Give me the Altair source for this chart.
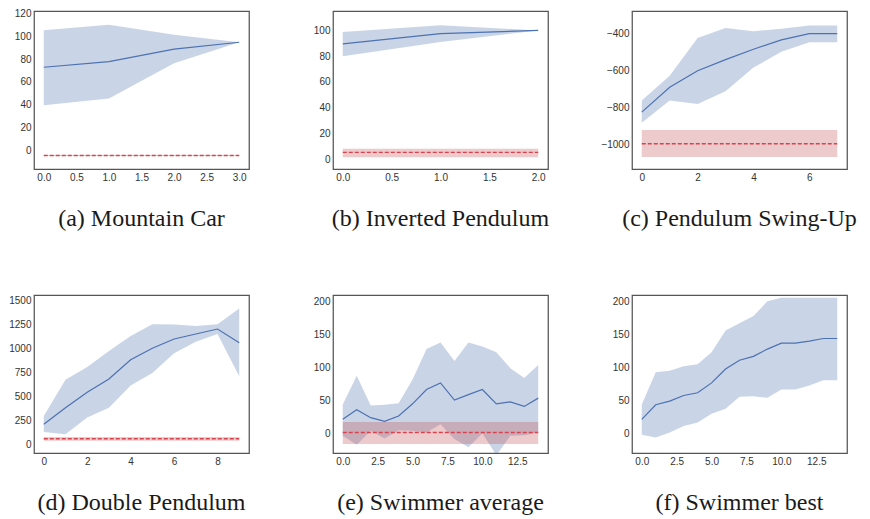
import altair as alt
import pandas as pd

BLUE = "#4c72b0"
RED = "#c44e52"

# (a) Mountain Car
a_steps = [0, 1, 2, 3]
a_mean = [73, 78, 89, 95]
a_upper = [105.5, 110.5, 101.5, 95]
a_lower = [39.5, 45.5, 76.5, 95]
a_base = -4.7
a_base_lo = -5.2
a_base_hi = -4.2

# (b) Inverted Pendulum
b_steps = [0, 1, 2]
b_mean = [89.5, 97.5, 100]
b_upper = [98.7, 104, 100]
b_lower = [80, 91, 100]
b_base = 5.2
b_base_lo = 1.5
b_base_hi = 8.0

# (c) Pendulum Swing-Up
c_steps = [0, 1, 2, 3, 4, 5, 6, 7]
c_mean = [-825, -692, -603, -543, -487, -437, -403, -403]
c_upper = [-763, -630, -427, -373, -391, -377, -360, -360]
c_lower = [-882, -763, -781, -713, -586, -501, -450, -450]
c_base = -995
c_base_lo = -1067
c_base_hi = -922

# (d) Double Pendulum
d_steps = [0, 1, 2, 3, 4, 5, 6, 7, 8, 9]
d_mean = [207, 379, 541, 679, 879, 1000, 1096, 1148, 1200, 1058]
d_upper = [293, 672, 803, 972, 1127, 1251, 1248, 1231, 1251, 1413]
d_lower = [127, 103, 276, 379, 610, 741, 948, 1068, 1148, 707]
d_base = 55
d_base_lo = 35
d_base_hi = 75

# (e) Swimmer average
e_steps = list(range(15))
e_mean = [21.5, 36, 24, 18.5, 26.6, 45, 66.7, 76.7, 50.6, 59, 66.7, 45, 48, 41, 53.6]
e_upper = [44, 87.7, 42.6, 43.6, 46, 81.7, 128, 138, 110, 138, 132, 123, 99, 84, 104]
e_lower = [-3.5, -17, 4, -7.5, 5, 4, 1.5, 14, -8.5, -21, 0.5, -33, -3.5, -2.5, 1.5]
e_base = 1.5
e_base_lo = -16
e_base_hi = 17.5

# (f) Swimmer best
f_steps = list(range(15))
f_mean = [21.5, 43.6, 49, 57.6, 61.7, 76.7, 97.8, 111, 117, 128, 137, 137, 140, 144, 144]
f_upper = [44, 92.7, 95, 102, 105, 123, 156, 167, 178, 200.5, 206, 206, 206, 206, 206]
f_lower = [-2, -6, 1.5, 11.5, 16.5, 30, 37.6, 55.6, 56.6, 54, 66.7, 66.7, 72.7, 80.7, 80.7]

titles = ["(a) Mountain Car", "(b) Inverted Pendulum", "(c) Pendulum Swing-Up",
          "(d) Double Pendulum", "(e) Swimmer average", "(f) Swimmer best"]


def panel(title, steps, mean, lower, upper, base, base_lo, base_hi,
          xdom, ydom, xticks, yticks, xfmt):
    df = pd.DataFrame({"step": steps, "mean": mean, "lo": lower, "hi": upper})
    x = alt.X("step:Q", scale=alt.Scale(domain=xdom, nice=False, zero=False),
              axis=alt.Axis(values=xticks, format=xfmt, title=None))
    ysc = alt.Scale(domain=ydom, nice=False, zero=False)
    yax = alt.Axis(values=yticks, format="d", title=None)
    base_chart = alt.Chart(df)
    layers = [
        base_chart.mark_area(color=BLUE, opacity=0.3, clip=True).encode(
            x=x, y=alt.Y("lo:Q", scale=ysc, axis=yax), y2="hi:Q"),
        base_chart.mark_line(color=BLUE, strokeWidth=1.2, clip=True).encode(
            x=x, y=alt.Y("mean:Q", scale=ysc, axis=yax)),
    ]
    if base is not None:
        bdf = pd.DataFrame({"step": [steps[0], steps[-1]], "b": [base, base],
                            "blo": [base_lo, base_lo], "bhi": [base_hi, base_hi]})
        bc = alt.Chart(bdf)
        layers.append(bc.mark_area(color=RED, opacity=0.3, clip=True).encode(
            x=x, y=alt.Y("blo:Q", scale=ysc, axis=yax), y2="bhi:Q"))
        layers.append(bc.mark_line(stroke="#d9434d", strokeWidth=1.4, strokeDash=[4, 2],
                                   strokeCap="butt", clip=True).encode(
            x=x, y=alt.Y("b:Q", scale=ysc, axis=yax)))
    return alt.layer(*layers).properties(
        width=215, height=158,
        title=alt.TitleParams(title, orient="bottom", anchor="middle"))


charts = [
    panel(titles[0], a_steps, a_mean, a_lower, a_upper, a_base, a_base_lo, a_base_hi,
          [-0.15, 3.15], [-16.6, 122.5], [0, 0.5, 1, 1.5, 2, 2.5, 3], [0, 20, 40, 60, 80, 100, 120], ".1f"),
    panel(titles[1], b_steps, b_mean, b_lower, b_upper, b_base, b_base_lo, b_base_hi,
          [-0.1, 2.1], [-7.7, 115.1], [0, 0.5, 1, 1.5, 2], [0, 20, 40, 60, 80, 100], ".1f"),
    panel(titles[2], c_steps, c_mean, c_lower, c_upper, c_base, c_base_lo, c_base_hi,
          [-0.35, 7.35], [-1131, -281.6], [0, 2, 4, 6], [-1000, -800, -600, -400], "d"),
    panel(titles[3], d_steps, d_mean, d_lower, d_upper, d_base, d_base_lo, d_base_hi,
          [-0.45, 9.45], [-93, 1555], [0, 2, 4, 6, 8], [0, 250, 500, 750, 1000, 1250, 1500], "d"),
    panel(titles[4], e_steps, e_mean, e_lower, e_upper, e_base, e_base_lo, e_base_hi,
          [-0.7, 14.7], [-29.6, 210], [0, 2.5, 5, 7.5, 10, 12.5], [0, 50, 100, 150, 200], ".1f"),
    panel(titles[5], f_steps, f_mean, f_lower, f_upper, None, None, None,
          [-0.7, 14.7], [-29.6, 210], [0, 2.5, 5, 7.5, 10, 12.5], [0, 50, 100, 150, 200], ".1f"),
]

chart = alt.concat(
    *charts, columns=3, bounds="flush",
    spacing=alt.RowColnumber(row=126, column=84)
).properties(
    padding=0, background="white"
).configure_view(
    stroke="#555555", strokeWidth=1.25
).configure_axis(
    grid=False, domain=False, ticks=False,
    labelFont="Liberation Sans", labelFontSize=10, labelColor="#333333",
    labelPadding=3
).configure_title(
    font="Liberation Serif", fontSize=24, fontWeight="normal", color="#1a1a1a",
    offset=25
)

chart.save("out.html", embed_options={"renderer": "svg", "actions": False})
